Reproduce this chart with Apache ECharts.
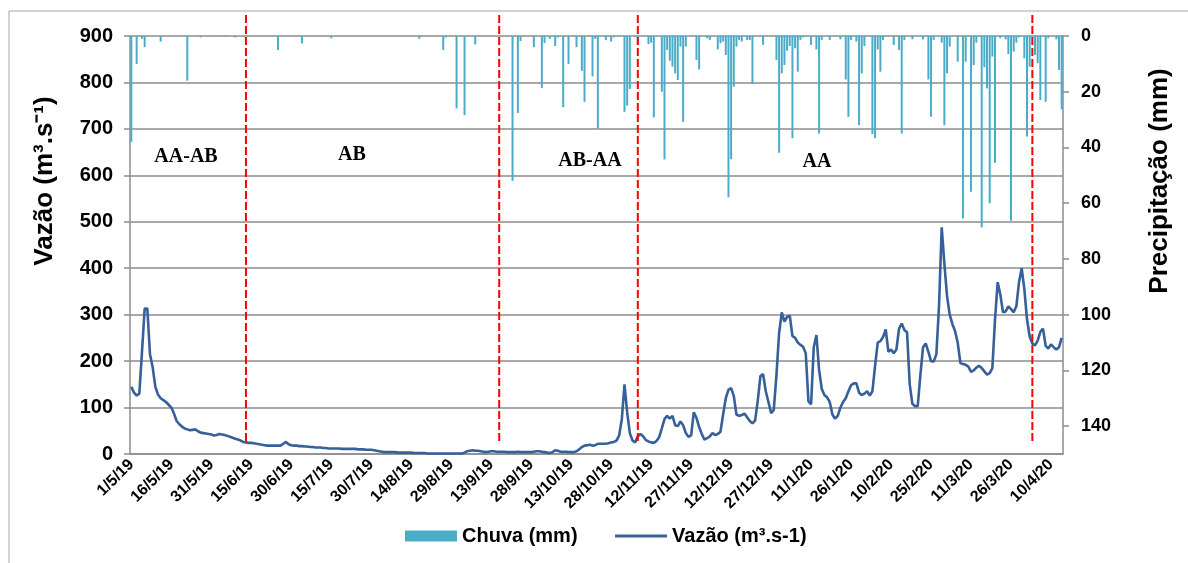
<!DOCTYPE html>
<html><head><meta charset="utf-8">
<script src="https://cdn.jsdelivr.net/npm/echarts@6/dist/echarts.min.js"></script>
<style>html,body{margin:0;padding:0;background:#fff}#c{width:1188px;height:563px}</style>
</head><body><div id="c"></div>
<script>
// ---------- data ----------
const startDate = [2019, 5, 1];   // 1/5/19
const dayCount = 350;              // 1/5/19 .. 14/4/20

// daily discharge (m3/s), one value per day
const flow = [
145,132,126,130,220,313,313,215,187,145,
128,120,116,112,106,100,87,71,64,59,
55,53,51,52,53,49,46,45,44,43,
42,40,41,43,42,41,39,37,35,33,
31,29,26,25,24,24,23,22,21,20,
19,18,18,18,18,18,18,22,26,21,
19,18,18,17,17,16,16,15,15,14,
14,14,13,13,12,12,12,12,12,11,
11,11,11,11,11,10,10,10,9,9,
9,8,7,6,5,4,4,4,4,4,
3,3,3,3,3,3,2,2,2,2,
2,1,1,1,1,1,1,1,1,1,
1,1,1,1,1,3,6,7,8,7,
7,6,5,4,5,6,6,5,5,5,
5,4,4,4,4,5,4,4,4,4,
4,5,6,6,5,4,3,2,4,8,
7,5,5,5,4,4,4,6,10,15,
18,19,20,18,19,22,22,22,22,23,
25,26,29,40,75,150,90,45,29,25,
38,43,38,30,27,25,24,28,36,55,
75,82,76,82,62,60,70,62,45,37,
40,90,78,58,43,31,34,38,45,41,
43,48,85,120,138,142,125,85,82,84,
87,79,71,66,72,115,168,172,135,112,
88,95,170,260,305,285,295,298,254,250,
240,235,231,217,114,107,230,256,181,140,
127,122,112,85,76,82,100,112,120,135,
148,152,152,132,127,130,135,126,135,190,
240,243,252,268,220,225,217,225,270,281,
267,262,150,108,103,103,170,230,238,220,
200,199,215,320,488,410,340,300,280,265,
240,196,194,192,188,177,180,186,190,185,
178,171,174,185,290,370,343,305,307,318,
312,305,318,370,400,355,290,253,238,234,
244,263,270,233,227,236,230,225,230,250
];

// rainfall (mm): [day index, mm] for the days with rain
const rainByDay = [
[0,38],[2,10],[4,1],[5,4],[11,2],[21,16],[26,0.5],[35,0.3],[39,0.5],[55,5],[64,2.7],[75,0.8],
[108,1],[117,5],[118,0.5],[122,26],[125,28.4],[129,3],[143,52],[145,27.6],[146,1.8],[151,4],
[154,18.7],[155,2.5],[157,1],[159,3.6],[160,0.5],[162,25.5],[164,10],[167,4],[169,12.5],[170,23.6],
[173,14.5],[174,1],[175,33.2],[178,1.5],[180,2],[181,0.5],[185,27.2],[186,25],[187,19],[190,3.2],
[194,2.9],[195,2.4],[196,29.2],[199,20],[200,44.3],[201,5],[202,8.9],[203,11],[204,13.4],[205,15.8],
[206,3.8],[207,30.8],[208,3.8],[212,8.6],[213,12],[216,0.8],[217,1.4],[220,4.8],[221,2.6],[222,2],
[223,6.8],[224,57.9],[225,44.2],[226,18.2],[227,3.8],[228,1.4],[229,2],[231,1.4],[232,1.4],[233,17.2],
[237,3.2],[242,8.6],[243,41.9],[244,13.4],[245,10.4],[246,5.3],[247,3.6],[248,36.7],[249,4.4],[250,12.8],
[251,1.4],[252,0.5],[255,3.2],[257,4.8],[258,35],[259,1.4],[262,1.4],[266,1.2],[268,15.6],[269,29],
[270,1.4],[272,2],[273,32],[274,13.4],[275,3.6],[278,35.2],[279,36.7],[280,4.8],[281,12.8],[282,1.4],
[286,3.2],[288,5],[289,35],[290,1.4],[293,1.2],[297,1.2],[299,15.6],[300,29],[301,1.4],[304,2.4],
[305,32],[306,13.4],[307,3.8],[310,9.2],[312,65.5],[313,9.2],[315,55.9],[316,10.4],[317,2.4],[319,68.7],
[320,11.2],[321,18.8],[322,60],[323,7.4],[324,45.5],[326,0.8],[328,1.2],[329,6.5],[330,66.3],[331,5.6],
[332,2.4],[333,0.5],[335,8],[336,36.1],[337,11],[339,6.8],[340,9.8],[341,23],[343,23.6],[344,0.8],
[347,1.2],[348,12.2],[349,26.3]
];

// phase boundaries (day index) and phase names
const phaseBounds = [43, 138, 190, 338];
const phaseNames = ['AA-AB', 'AB', 'AB-AA', 'AA'];

const seriesNames = ['Chuva (mm)', 'Vazão (m³.s-1)'];

// ---------- build ----------
const categories = [];
for (let i = 0; i < dayCount; i++) {
  const d = new Date(startDate[0], startDate[1] - 1, startDate[2] + i);
  categories.push(d.getDate() + '/' + (d.getMonth() + 1) + '/' + String(d.getFullYear()).slice(2));
}
const rainSeries = new Array(dayCount).fill('-');
rainByDay.forEach(([i, v]) => { rainSeries[i] = v; });

const FONT = '"Liberation Sans", Arial, sans-serif';
const GRID = '#8c8c8c';
const LINE = '#36609A';

const chart = echarts.init(document.getElementById('c'), null, {renderer: 'canvas'});
chart.setOption({
  animation: false,
  backgroundColor: '#fff',
  grid: {left: 130, right: 125, top: 36, bottom: 109, containLabel: false},
  legend: {
    left: 400, top: 521, itemGap: 36, itemWidth: 52, itemHeight: 11,
    textStyle: {fontFamily: FONT, fontWeight: 'bold', fontSize: 20, color: '#000'},
    data: [
      {name: seriesNames[0], icon: 'rect'},
      {name: seriesNames[1], itemStyle: {opacity: 0}, lineStyle: {color: LINE, width: 3, opacity: 1}}
    ]
  },
  xAxis: {
    type: 'category', data: categories, boundaryGap: true,
    axisLine: {lineStyle: {color: GRID, width: 1.5}},
    axisTick: {interval: 14, length: 6, lineStyle: {color: GRID, width: 1.5}},
    axisLabel: {interval: 14, rotate: 45, margin: 8, fontFamily: FONT, fontWeight: 'bold', fontSize: 16, color: '#000'}
  },
  yAxis: [
    {type: 'value', min: 0, max: 900, interval: 100,
     axisLine: {show: true, lineStyle: {color: GRID, width: 1.5}},
     axisTick: {show: true, length: 6, lineStyle: {color: GRID, width: 1.5}},
     splitLine: {lineStyle: {color: GRID, width: 1.5}},
     axisLabel: {margin: 17, fontFamily: FONT, fontWeight: 'bold', fontSize: 20, color: '#000'}},
    {type: 'value', min: 0, max: 150, interval: 20, inverse: true, position: 'right',
     axisLine: {show: true, lineStyle: {color: GRID, width: 1.5}},
     axisTick: {show: true, length: 6, lineStyle: {color: GRID, width: 1.5}},
     splitLine: {show: false},
     axisLabel: {margin: 18, showMaxLabel: false, fontFamily: FONT, fontWeight: 'bold', fontSize: 18, color: '#000'}}
  ],
  series: [
    {name: seriesNames[0], type: 'bar', yAxisIndex: 1, data: rainSeries, barWidth: 2,
     itemStyle: {color: '#4BACC6'}},
    {name: seriesNames[1], type: 'line', yAxisIndex: 0, data: flow, symbol: 'none', smooth: false,
     lineStyle: {color: LINE, width: 2.6}, itemStyle: {color: LINE}, z: 3}
  ]
});

const g = [];
g.push({type: 'rect', shape: {x: 9, y: 11, width: 1200, height: 620}, style: {fill: 'none', stroke: '#a6a6a6', lineWidth: 1}, silent: true, z: -1});
phaseBounds.forEach(idx => {
  const x = chart.convertToPixel({xAxisIndex: 0}, idx);
  g.push({type: 'line', shape: {x1: x, y1: 15, x2: x, y2: 443}, style: {stroke: '#FF0000', lineWidth: 2, lineDash: [8, 3]}, z: 10});
});
const labelPos = [[186, 157], [352, 155], [590, 161], [817, 162]];
phaseNames.forEach((t, k) => {
  g.push({type: 'text', x: labelPos[k][0], y: labelPos[k][1], style: {text: t, textAlign: 'center', textVerticalAlign: 'middle', font: 'bold 20px "Liberation Serif", "Times New Roman", serif', fill: '#000'}, z: 10});
});
g.push({type: 'text', x: 45, y: 181, rotation: Math.PI / 2, style: {text: 'Vazão (m³.s⁻¹)', textAlign: 'center', textVerticalAlign: 'middle', font: 'bold 26px ' + FONT, fill: '#000'}});
g.push({type: 'text', x: 1160, y: 181, rotation: Math.PI / 2, style: {text: 'Precipitação (mm)', textAlign: 'center', textVerticalAlign: 'middle', font: 'bold 26px ' + FONT, fill: '#000'}});
chart.setOption({graphic: g});
</script>
</body></html>
